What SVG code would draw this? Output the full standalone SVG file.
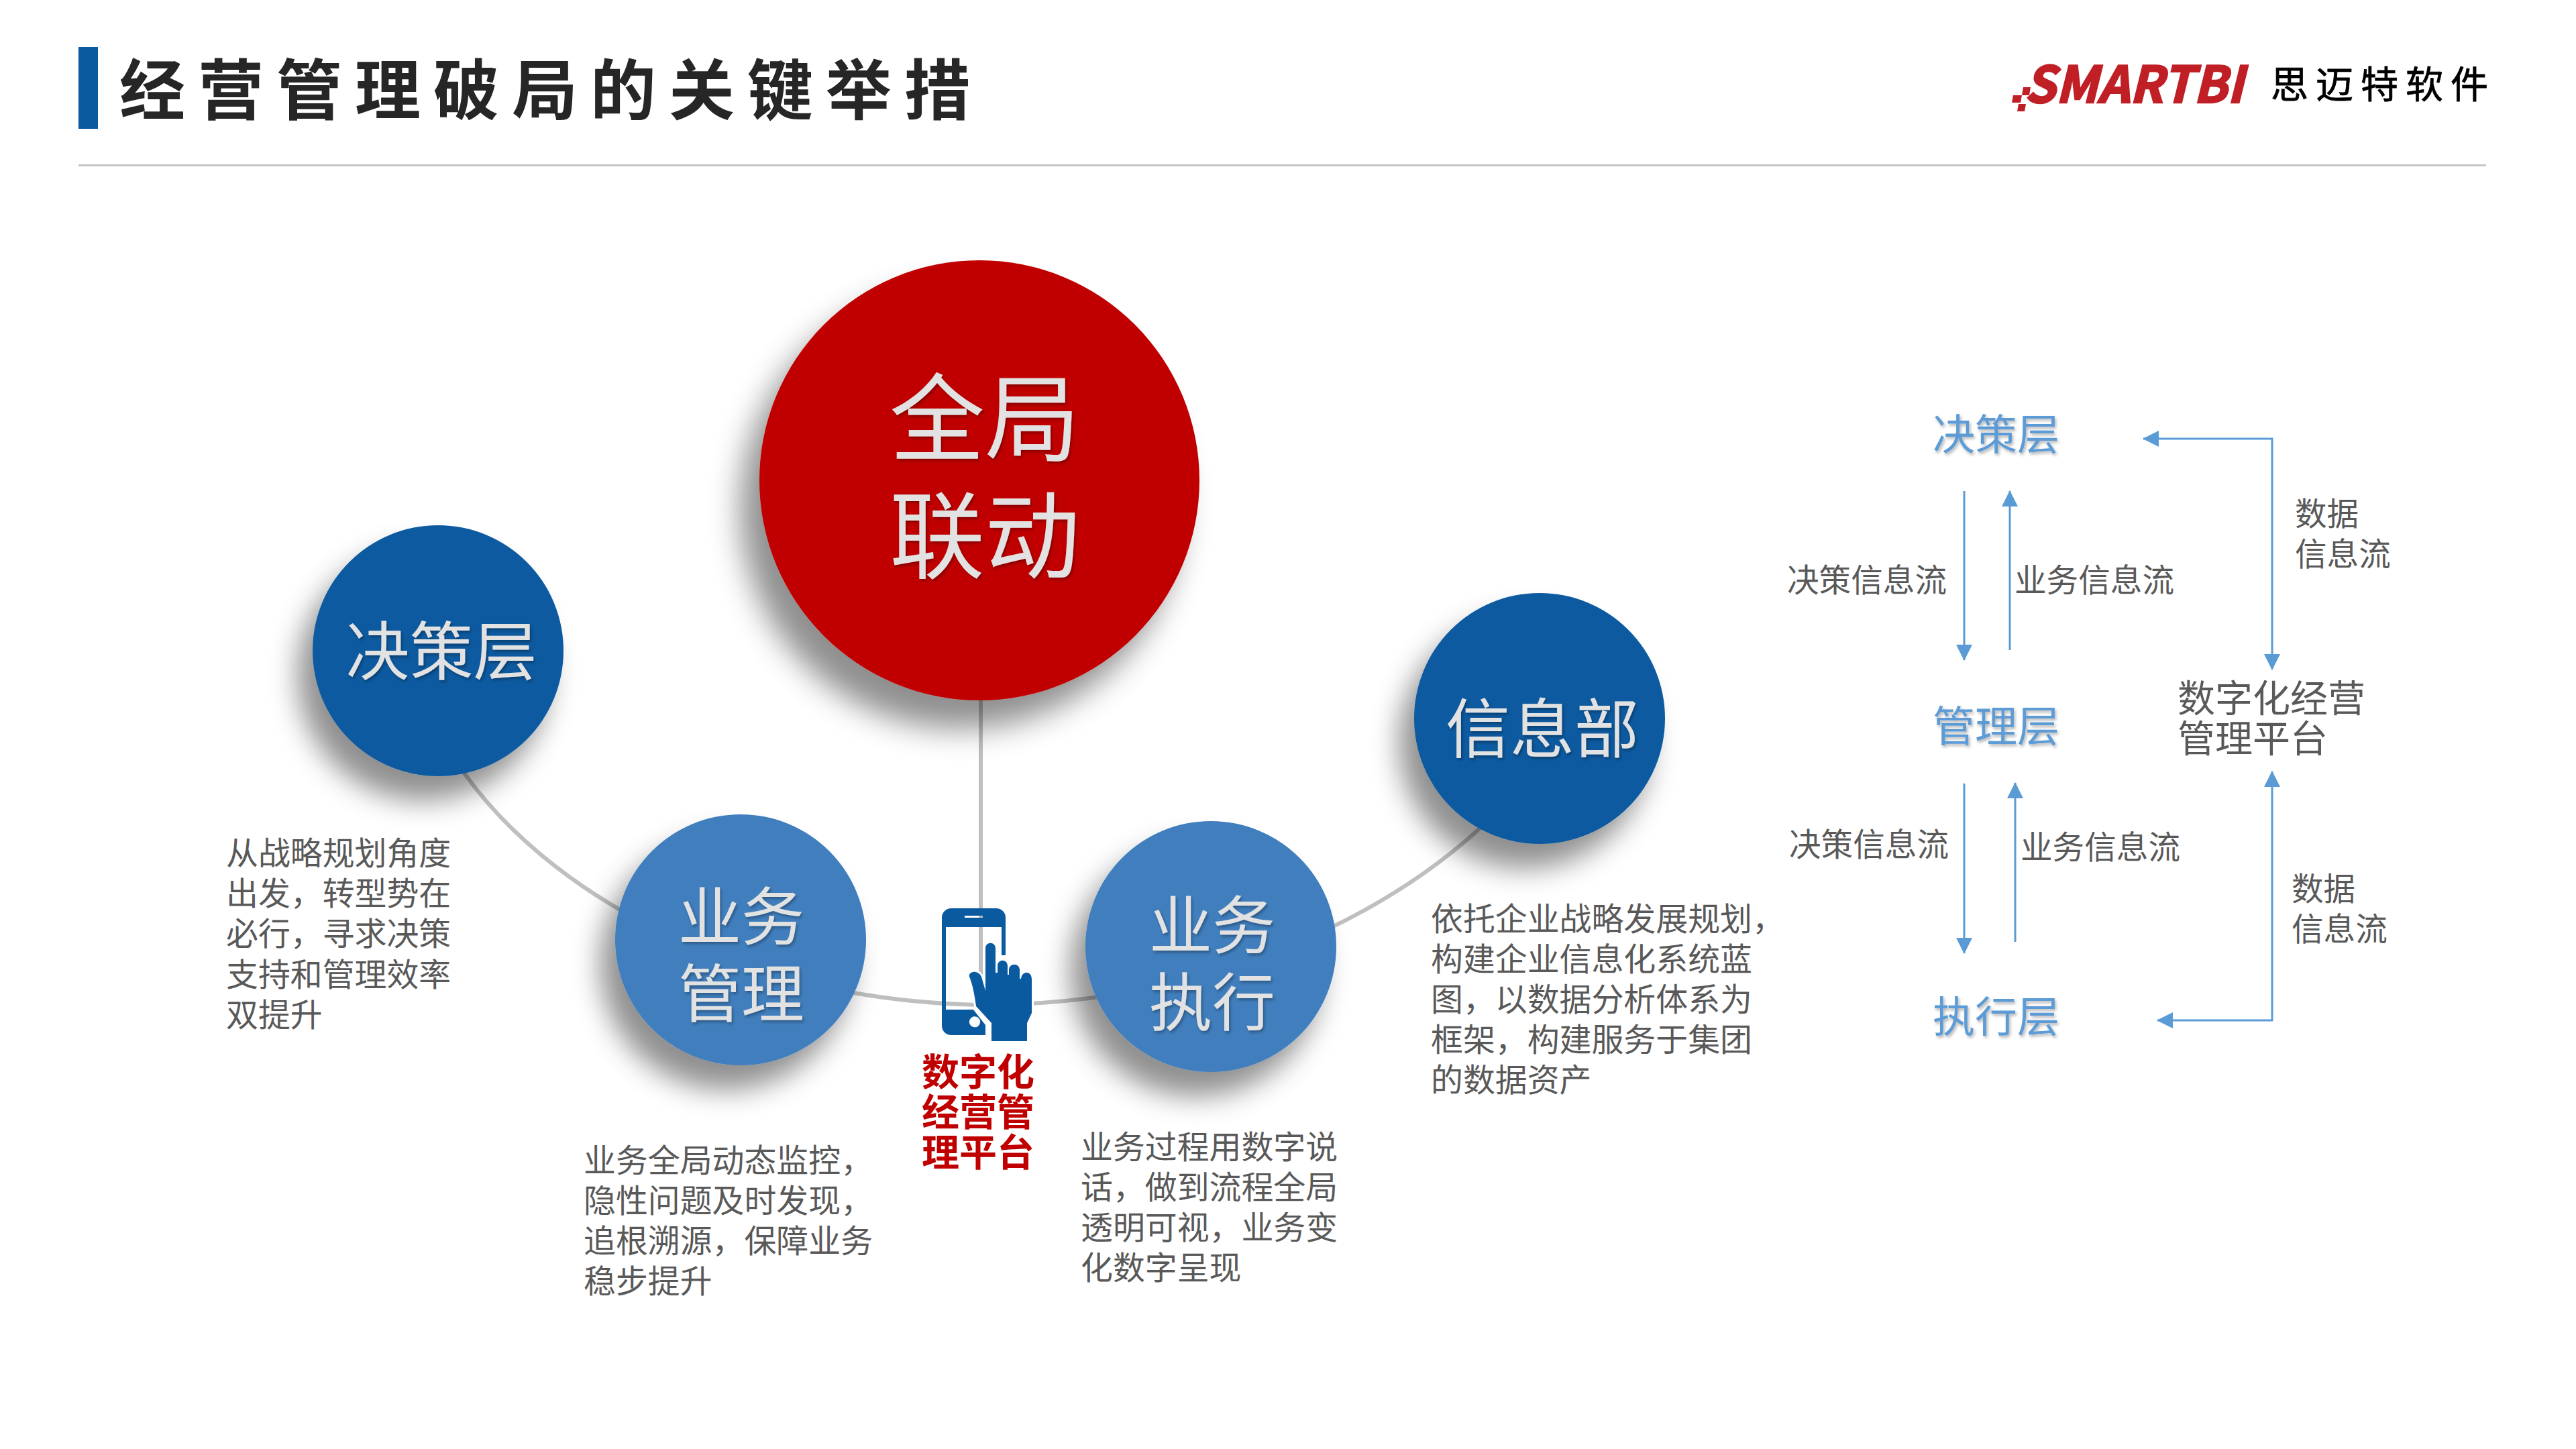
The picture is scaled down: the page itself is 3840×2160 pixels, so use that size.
<svg xmlns="http://www.w3.org/2000/svg" width="3840" height="2160" viewBox="0 0 3840 2160">
<style>
text{font-family:"Noto Sans CJK SC","Noto Sans",sans-serif}
.body{font-size:47.9px;fill:#595959}
.flow{font-size:47.6px;fill:#595959}
.layer{font-size:63px;fill:#5B9BD5;filter:url(#ts)}
.circ{fill:#e2e2e2;filter:url(#ts)}
.conn{fill:none;stroke:#5B9BD5;stroke-width:3}
.arc{fill:none;stroke:#BFBFBF;stroke-width:6}
</style>
<defs>
<filter id="ds" x="-50%" y="-50%" width="200%" height="200%"><feDropShadow dx="-22" dy="36" stdDeviation="21" flood-color="#000" flood-opacity=".44"/></filter>
<filter id="dsb" x="-50%" y="-50%" width="200%" height="200%"><feDropShadow dx="-28" dy="42" stdDeviation="23" flood-color="#000" flood-opacity=".44"/></filter>
<filter id="ts" x="-10%" y="-10%" width="120%" height="130%"><feDropShadow dx="2" dy="3" stdDeviation="2" flood-color="#000" flood-opacity=".3"/></filter>
<marker id="ah" markerUnits="userSpaceOnUse" markerWidth="24" markerHeight="24" refX="23" refY="12" orient="auto-start-reverse"><path d="M0 0L24 12L0 24Z" fill="#5B9BD5"/></marker>
</defs>
<rect width="3840" height="2160" fill="#fff"/>
<g id="header">
<rect x="117" y="70" width="29" height="122" fill="#0A5AA0"/>
<text x="178" y="170" font-size="98" font-weight="700" letter-spacing="19" fill="#262626">经营管理破局的关键举措</text>
<rect x="117" y="245" width="3589" height="3" fill="#C4C4C4"/>
</g>
<g id="logo">
<text x="3018" y="153" font-family="Liberation Sans" font-size="75" font-weight="700" font-style="italic" fill="#C01F26" stroke="#C01F26" stroke-width="2.5" textLength="326" lengthAdjust="spacingAndGlyphs">SMARTBI</text>
<path d="M3016 130h11l-2 12h-11zM3001 142h13l-2 11h-13zM3009 155h11l-2 11h-11z" fill="#C01F26"/>
<text x="3385" y="146" font-size="56" letter-spacing="11" fill="#000" stroke="#000" stroke-width=".8">思迈特软件</text>
</g>
<g id="connectors">
<path class="arc" d="M691 1151C810 1320 1080 1490 1460 1498C1800 1498 2060 1370 2209 1232"/>
<path class="arc" d="M1462 1040V1498"/>
<path class="conn" marker-end="url(#ah)" d="M2928 732V984"/>
<path class="conn" marker-end="url(#ah)" d="M2996 969V732"/>
<path class="conn" marker-end="url(#ah)" d="M2928 1168V1421"/>
<path class="conn" marker-end="url(#ah)" d="M3004 1404V1167"/>
<path class="conn" marker-end="url(#ah)" marker-start="url(#ah)" d="M3195 654H3387V998"/>
<path class="conn" marker-end="url(#ah)" marker-start="url(#ah)" d="M3387 1150V1521H3216"/>
</g>
<g id="node-global"><circle cx="1460" cy="716" r="328" fill="#C00000" filter="url(#dsb)"/>
<text class="circ" x="1468" y="676" font-size="142" text-anchor="middle">全局</text>
<text class="circ" x="1468" y="851" font-size="142" text-anchor="middle">联动</text></g>
<g id="node-decision"><circle cx="653" cy="970" r="187" fill="#0A5AA0" filter="url(#ds)"/>
<text class="circ" x="658" y="1006" font-size="95" text-anchor="middle">决策层</text></g>
<g id="node-biz"><circle cx="1104" cy="1401" r="187" fill="#3F7EBD" filter="url(#ds)"/>
<text class="circ" x="1105" y="1401" font-size="94" text-anchor="middle">业务</text>
<text class="circ" x="1105" y="1516" font-size="94" text-anchor="middle">管理</text></g>
<g id="node-exec"><circle cx="1805" cy="1411" r="187" fill="#3F7EBD" filter="url(#ds)"/>
<text class="circ" x="1807" y="1414" font-size="94" text-anchor="middle">业务</text>
<text class="circ" x="1807" y="1529" font-size="94" text-anchor="middle">执行</text></g>
<g id="node-info"><circle cx="2295" cy="1071" r="187" fill="#0A5AA0" filter="url(#ds)"/>
<text class="circ" x="2299" y="1121" font-size="96" text-anchor="middle">信息部</text></g>
<g id="node-platform">
<path fill-rule="evenodd" fill="#0A5AA0" d="M1418 1354H1485A14 14 0 0 1 1499 1368V1424H1493V1382H1410V1505H1451L1459 1518A8 8 0 1 0 1451 1531A8 8 0 0 0 1459 1518L1451 1505H1451L1469 1528V1543H1418A14 14 0 0 1 1404 1529V1368A14 14 0 0 1 1418 1354ZM1438 1365V1368H1465V1365Z"/>
<path fill="#0A5AA0" stroke="#fff" stroke-width="6" paint-order="stroke" d="M1478 1552V1525L1455 1500Q1451 1470 1445 1456C1443 1448 1458 1445 1463 1456L1469 1477V1414C1469 1403 1484 1403 1484 1414V1450H1487V1440C1487 1429 1502 1429 1502 1440V1453H1504V1446C1504 1435 1520 1435 1520 1446V1459H1522C1523 1447 1538 1446 1538 1460V1510L1531 1525V1552Z"/>
<g font-size="56" font-weight="700" fill="#C00000"><text x="1374" y="1618">数字化</text><text x="1374" y="1678">经营管</text><text x="1374" y="1738">理平台</text></g>
</g>
<g id="descriptions">
<text class="body" x="337" y="1289">从战略规划角度</text><text class="body" x="337" y="1349">出发，转型势在</text><text class="body" x="337" y="1409">必行，寻求决策</text><text class="body" x="337" y="1470">支持和管理效率</text><text class="body" x="337" y="1530">双提升</text>
<text class="body" x="870" y="1747">业务全局动态监控，</text><text class="body" x="870" y="1807">隐性问题及时发现，</text><text class="body" x="870" y="1867">追根溯源，保障业务</text><text class="body" x="870" y="1927">稳步提升</text>
<text class="body" x="1611" y="1727">业务过程用数字说</text><text class="body" x="1611" y="1787">话，做到流程全局</text><text class="body" x="1611" y="1847">透明可视，业务变</text><text class="body" x="1611" y="1907">化数字呈现</text>
<text class="body" x="2133" y="1387">依托企业战略发展规划，</text><text class="body" x="2133" y="1447">构建企业信息化系统蓝</text><text class="body" x="2133" y="1507">图，以数据分析体系为</text><text class="body" x="2133" y="1567">框架，构建服务于集团</text><text class="body" x="2133" y="1627">的数据资产</text>
</g>
<g id="flow-labels">
<text class="layer" x="2881" y="670">决策层</text><text class="layer" x="2881" y="1105">管理层</text><text class="layer" x="2881" y="1538">执行层</text>
<text class="flow" x="2664" y="882">决策信息流</text><text class="flow" x="3003" y="882">业务信息流</text>
<text class="flow" x="2667" y="1276">决策信息流</text><text class="flow" x="3012" y="1280">业务信息流</text>
<text class="flow" x="3421" y="783">数据</text><text class="flow" x="3421" y="843">信息流</text>
<text class="flow" x="3416" y="1342">数据</text><text class="flow" x="3416" y="1402">信息流</text>
<text x="3246" y="1061" font-size="56" fill="#595959">数字化经营</text><text x="3246" y="1121" font-size="56" fill="#595959">管理平台</text>
</g>
</svg>
